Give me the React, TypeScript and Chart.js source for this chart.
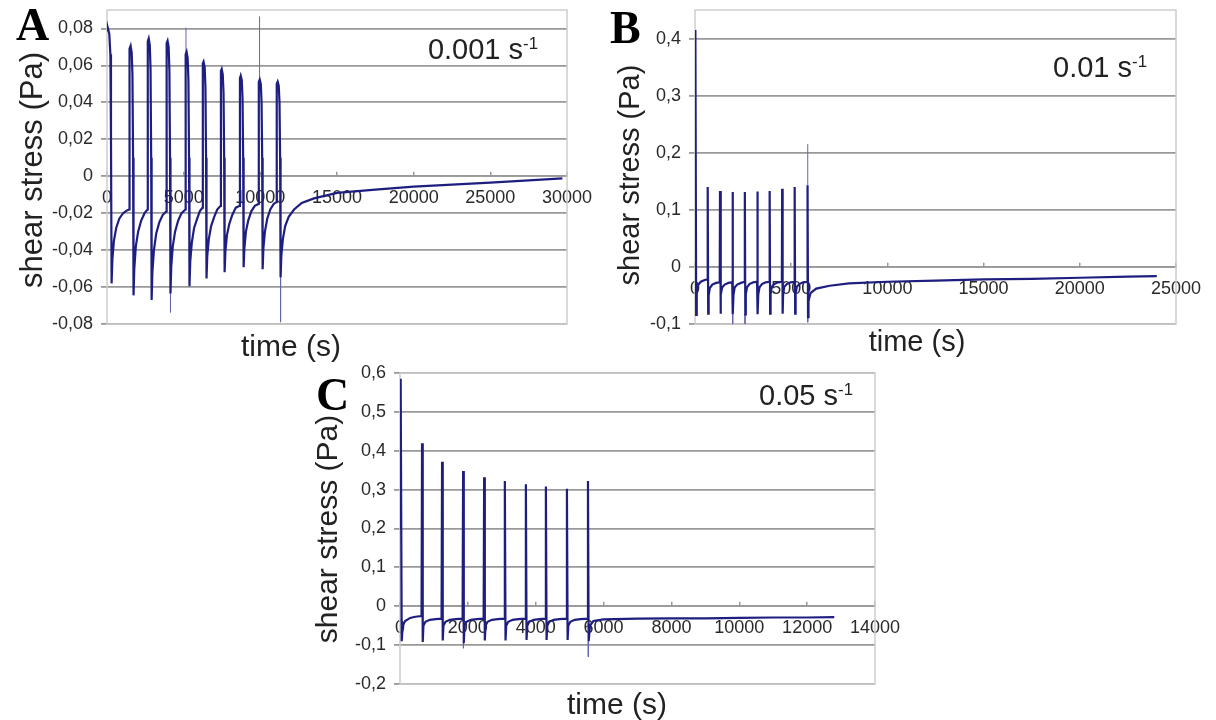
import React, { useEffect, useRef } from 'react';
import { Chart, registerables } from 'chart.js';

Chart.register(...registerables);

// ---------- Panel A : 0.001 s-1 ----------
const aTime = [
  0, 60, 150, 220, 260, 300, 350, 450, 600, 800, 1050, 1300, 1440,
  1470, 1540, 1610, 1660, 1700, 1730, 1780, 1880, 2030, 2230, 2450, 2640,
  2660, 2720, 2790, 2840, 2880, 2910, 2960, 3060, 3210, 3410, 3630, 3870,
  3890, 3950, 4020, 4070, 4110, 4140, 4190, 4290, 4440, 4640, 4860, 5110,
  5130, 5190, 5260, 5310, 5350, 5380, 5430, 5530, 5680, 5880, 6050, 6230,
  6250, 6300, 6370, 6420, 6460, 6490, 6540, 6640, 6790, 6990, 7190, 7410,
  7430, 7480, 7550, 7600, 7640, 7670, 7720, 7820, 7970, 8170, 8400, 8650,
  8670, 8720, 8790, 8840, 8880, 8910, 8960, 9060, 9210, 9410, 9640, 9880,
  9900, 9960, 10030, 10080, 10120, 10150, 10200, 10300, 10450, 10650, 10870, 11050,
  11070, 11130, 11200, 11250, 11290, 11320, 11370, 11470, 11620, 11850, 12200, 12700,
  13500, 15000, 17500, 20000, 22500, 25000, 27500, 29700,
];
const aStress = [
  0.079, 0.08, 0.077, 0.066, 0.02, -0.058, -0.045, -0.035, -0.028, -0.023, -0.02, -0.0185, -0.018,
  0.069, 0.0706, 0.067, 0.055, 0.01, -0.0645, -0.05, -0.038, -0.03, -0.024, -0.02, -0.018,
  0.073, 0.0746, 0.071, 0.058, 0.01, -0.067, -0.052, -0.04, -0.031, -0.025, -0.021, -0.019,
  0.072, 0.0733, 0.07, 0.057, 0.01, -0.0635, -0.049, -0.038, -0.03, -0.024, -0.02, -0.018,
  0.066, 0.0674, 0.064, 0.052, 0.01, -0.0596, -0.046, -0.036, -0.028, -0.023, -0.019, -0.017,
  0.061, 0.062, 0.059, 0.048, 0.01, -0.0553, -0.043, -0.034, -0.027, -0.022, -0.018, -0.016,
  0.057, 0.058, 0.055, 0.045, 0.01, -0.052, -0.041, -0.032, -0.026, -0.021, -0.017, -0.016,
  0.053, 0.0544, 0.052, 0.042, 0.01, -0.0493, -0.039, -0.03, -0.024, -0.019, -0.016, -0.015,
  0.051, 0.0523, 0.05, 0.04, 0.01, -0.0504, -0.039, -0.03, -0.023, -0.018, -0.015, -0.014,
  0.05, 0.0512, 0.049, 0.04, 0.01, -0.0547, -0.043, -0.034, -0.027, -0.022, -0.018, -0.0145,
  -0.012, -0.009, -0.0072, -0.0056, -0.0045, -0.0035, -0.0022, -0.0012,
];
const aThinTime = [5150, 5150, 5150, 9950, 9950, 9950, 4140, 4140, 4140, 11320, 11320];
const aThinStress = [0.06, 0.0805, null, 0.05, 0.0865, null, -0.06, -0.0737, null, -0.05, -0.079];
const aXTicks = [0, 5000, 10000, 15000, 20000, 25000, 30000];
const aYTicks = [-0.08, -0.06, -0.04, -0.02, 0, 0.02, 0.04, 0.06, 0.08];

// ---------- Panel B : 0.01 s-1 ----------
const bTime = [
  0, 20, 60, 90, 150, 300, 500, 645,
  660, 685, 710, 770, 900, 1100, 1285,
  1300, 1325, 1350, 1410, 1540, 1740, 1935,
  1950, 1975, 2000, 2060, 2190, 2390, 2575,
  2590, 2615, 2640, 2700, 2830, 3030, 3225,
  3240, 3265, 3290, 3350, 3480, 3680, 3865,
  3880, 3905, 3930, 3990, 4120, 4320, 4515,
  4530, 4555, 4580, 4640, 4770, 4970, 5165,
  5180, 5205, 5230, 5290, 5420, 5620, 5835,
  5850, 5875, 5900, 6000, 6300, 7000, 8000, 10000, 12500, 15000, 17500, 20000, 22500, 24000,
];
const bStress = [
  0.12, 0.415, -0.084, -0.045, -0.032, -0.026, -0.023, -0.022,
  0.14, -0.082, -0.05, -0.037, -0.031, -0.028, -0.027,
  0.133, -0.082, -0.049, -0.036, -0.031, -0.028, -0.027,
  0.131, -0.083, -0.049, -0.036, -0.031, -0.028, -0.026,
  0.131, -0.083, -0.048, -0.036, -0.03, -0.027, -0.026,
  0.132, -0.083, -0.048, -0.036, -0.03, -0.027, -0.026,
  0.133, -0.082, -0.048, -0.035, -0.03, -0.027, -0.026,
  0.137, -0.082, -0.048, -0.035, -0.03, -0.027, -0.026,
  0.14, -0.082, -0.047, -0.035, -0.03, -0.027, -0.026,
  0.143, -0.088, -0.06, -0.046, -0.038, -0.033, -0.029, -0.026, -0.024, -0.022, -0.021, -0.019, -0.017, -0.016,
];
const bThinTime = [5860, 5860, 5860, 5860, 5860, 5860, 1960, 1960, 1960, 2600, 2600];
const bThinStress = [0.143, 0.215, null, -0.085, -0.097, null, -0.083, -0.1, null, -0.083, -0.1];
const bXTicks = [0, 5000, 10000, 15000, 20000, 25000];
const bYTicks = [-0.1, 0, 0.1, 0.2, 0.3, 0.4];

// ---------- Panel C : 0.05 s-1 ----------
const cTime = [
  0, 20, 50, 80, 150, 300, 450, 635,
  650, 670, 690, 750, 880, 1050, 1225,
  1240, 1260, 1280, 1340, 1470, 1640, 1845,
  1860, 1880, 1900, 1960, 2090, 2260, 2465,
  2480, 2500, 2520, 2580, 2710, 2880, 3075,
  3090, 3110, 3130, 3190, 3320, 3490, 3695,
  3710, 3730, 3750, 3810, 3940, 4110, 4285,
  4300, 4320, 4340, 4400, 4530, 4700, 4905,
  4920, 4940, 4960, 5020, 5150, 5320, 5525,
  5540, 5560, 5600, 5700, 6000, 7000, 8000, 9000, 10000, 11000, 12000, 12800,
];
const cStress = [
  0.2, 0.585, -0.09, -0.05, -0.038, -0.03, -0.027, -0.025,
  0.419, -0.092, -0.05, -0.04, -0.035, -0.033, -0.032,
  0.372, -0.088, -0.05, -0.04, -0.035, -0.033, -0.032,
  0.348, -0.095, -0.05, -0.04, -0.035, -0.033, -0.032,
  0.332, -0.088, -0.05, -0.04, -0.035, -0.033, -0.032,
  0.322, -0.088, -0.05, -0.04, -0.035, -0.033, -0.032,
  0.314, -0.087, -0.05, -0.04, -0.035, -0.033, -0.032,
  0.308, -0.087, -0.05, -0.04, -0.035, -0.033, -0.032,
  0.302, -0.087, -0.05, -0.04, -0.035, -0.033, -0.032,
  0.322, -0.09, -0.05, -0.038, -0.034, -0.032, -0.031, -0.031, -0.03, -0.029, -0.029, -0.028,
];
const cThinTime = [1870, 1870, 1870, 5550, 5550];
const cThinStress = [-0.09, -0.108, null, -0.09, -0.13];
const cXTicks = [0, 2000, 4000, 6000, 8000, 10000, 12000, 14000];
const cYTicks = [-0.2, -0.1, 0, 0.1, 0.2, 0.3, 0.4, 0.5, 0.6];

// ---------- shared styling ----------
const FONT = "'Liberation Sans', Arial, sans-serif";
const LINE = '#1e1e80';
const THIN = '#6464b4';
const GRID = '#999999';
const FRAME = '#cdcdcd';

const fmtY = (v: number) => {
  if (Math.abs(v) < 1e-9) return '0';
  return String(Math.round(v * 1000) / 1000).replace('.', ',');
};

const framePlugin = {
  id: 'frame',
  beforeDatasetsDraw(chart: any) {
    const { ctx, chartArea } = chart;
    const { left, top, right, bottom } = chartArea;
    ctx.save();
    ctx.strokeStyle = FRAME;
    ctx.lineWidth = 1.5;
    ctx.strokeRect(left, top, right - left, bottom - top);
    ctx.restore();
  },
};

type Spec = {
  time: number[];
  stress: number[];
  thinTime: number[];
  thinStress: (number | null)[];
  xTicks: number[];
  yTicks: number[];
  xMax: number;
  yMin: number;
  yMax: number;
  left: number;
  top: number;
  w: number;
  h: number;
  yWidth: number;
  pad: { top: number; right: number; bottom: number; left: number };
};

function buildConfig(s: Spec): any {
  return {
    type: 'line',
    data: {
      datasets: [
        {
          data: s.time.map((t, i) => ({ x: t, y: s.stress[i] })),
          borderColor: LINE,
          borderWidth: 2.2,
          pointRadius: 0,
          tension: 0,
          fill: false,
        },
        {
          data: s.thinTime.map((t, i) => ({ x: t, y: s.thinStress[i] })),
          borderColor: THIN,
          borderWidth: 1,
          pointRadius: 0,
          spanGaps: false,
          tension: 0,
          fill: false,
        },
      ],
    },
    options: {
      responsive: false,
      animation: false,
      events: [],
      layout: { padding: s.pad },
      plugins: { legend: { display: false }, tooltip: { enabled: false }, title: { display: false } },
      scales: {
        x: {
          type: 'linear',
          min: 0,
          max: s.xMax,
          position: { y: 0 },
          afterBuildTicks: (axis: any) => {
            axis.ticks = s.xTicks.map((v) => ({ value: v }));
          },
          afterFit: (axis: any) => {
            axis.paddingLeft = 0;
            axis.paddingRight = 0;
          },
          grid: { drawOnChartArea: false, drawTicks: true, tickLength: -5, color: GRID, lineWidth: 1.5 },
          border: { display: true, color: GRID, width: 1.8 },
          ticks: {
            autoSkip: false,
            maxRotation: 0,
            padding: 16,
            color: '#2a2a2a',
            font: { family: FONT, size: 18 },
            callback: (v: any) => String(v),
          },
        },
        y: {
          type: 'linear',
          min: s.yMin,
          max: s.yMax,
          afterFit: (axis: any) => {
            axis.width = s.yWidth;
            axis.paddingTop = 0;
            axis.paddingBottom = 0;
          },
          afterBuildTicks: (axis: any) => {
            axis.ticks = s.yTicks.map((v) => ({ value: v }));
          },
          grid: { color: GRID, lineWidth: 1.8, drawTicks: true, tickLength: 6 },
          border: { display: false },
          ticks: {
            autoSkip: false,
            padding: 8,
            color: '#2a2a2a',
            font: { family: FONT, size: 18 },
            callback: (v: any) => fmtY(Number(v)),
          },
        },
      },
    },
    plugins: [framePlugin],
  };
}

const specA: Spec = {
  time: aTime, stress: aStress, thinTime: aThinTime, thinStress: aThinStress,
  xTicks: aXTicks, yTicks: aYTicks, xMax: 30000, yMin: -0.08, yMax: 0.09,
  left: 0, top: 0, w: 600, h: 360, yWidth: 107,
  pad: { top: 10, right: 33, bottom: 36, left: 0 },
};
const specB: Spec = {
  time: bTime, stress: bStress, thinTime: bThinTime, thinStress: bThinStress,
  xTicks: bXTicks, yTicks: bYTicks, xMax: 25000, yMin: -0.1, yMax: 0.45,
  left: 600, top: 0, w: 616, h: 360, yWidth: 95,
  pad: { top: 10, right: 40, bottom: 36, left: 0 },
};
const specC: Spec = {
  time: cTime, stress: cStress, thinTime: cThinTime, thinStress: cThinStress,
  xTicks: cXTicks, yTicks: cYTicks, xMax: 14000, yMin: -0.2, yMax: 0.6,
  left: 290, top: 360, w: 620, h: 360, yWidth: 110,
  pad: { top: 13, right: 35, bottom: 36, left: 0 },
};

function Panel({ spec }: { spec: Spec }) {
  const ref = useRef<HTMLCanvasElement | null>(null);
  useEffect(() => {
    if (!ref.current) return;
    const chart = new Chart(ref.current, buildConfig(spec));
    return () => chart.destroy();
  }, [spec]);
  return (
    <canvas
      ref={ref}
      width={spec.w}
      height={spec.h}
      style={{ position: 'absolute', left: spec.left, top: spec.top, width: spec.w, height: spec.h }}
    />
  );
}

function Letter({ ch, left, top }: { ch: string; left: number; top: number }) {
  return (
    <div
      style={{
        position: 'absolute', left, top, fontFamily: "'Liberation Serif', 'Times New Roman', serif",
        fontWeight: 'bold', fontSize: 46, lineHeight: 1, color: '#000', whiteSpace: 'nowrap',
      }}
    >
      {ch}
    </div>
  );
}

function Rate({ text, right, top }: { text: string; right: number; top: number }) {
  return (
    <div
      style={{
        position: 'absolute', left: right - 220, top, width: 220, textAlign: 'right',
        fontFamily: FONT, fontSize: 29, lineHeight: 1, color: '#222', whiteSpace: 'nowrap',
      }}
    >
      {text} s
      <span style={{ fontSize: '0.58em', position: 'relative', top: '-0.62em' }}>-1</span>
    </div>
  );
}

function YTitle({ cx, cy, size }: { cx: number; cy: number; size: number }) {
  return (
    <div
      style={{
        position: 'absolute', left: cx, top: cy, transform: 'translate(-50%, -50%) rotate(-90deg)',
        fontFamily: FONT, fontSize: size, lineHeight: 1, color: '#222', whiteSpace: 'nowrap',
      }}
    >
      shear stress (Pa)
    </div>
  );
}

function XTitle({ cx, cy, size }: { cx: number; cy: number; size: number }) {
  return (
    <div
      style={{
        position: 'absolute', left: cx, top: cy, transform: 'translate(-50%, -50%)',
        fontFamily: FONT, fontSize: size, lineHeight: 1, color: '#222', whiteSpace: 'nowrap',
      }}
    >
      time (s)
    </div>
  );
}

export default function App() {
  return (
    <div style={{ position: 'fixed', left: 0, top: 0, width: 1216, height: 720, background: '#fff', overflow: 'hidden' }}>
      <Panel spec={specA} />
      <Panel spec={specB} />
      <Panel spec={specC} />
      <Letter ch="A" left={16} top={2} />
      <Letter ch="B" left={610} top={5} />
      <Letter ch="C" left={316} top={372} />
      <Rate text="0.001" right={538} top={35} />
      <Rate text="0.01" right={1147} top={53} />
      <Rate text="0.05" right={853} top={381} />
      <YTitle cx={31} cy={170} size={31} />
      <YTitle cx={629} cy={175} size={29} />
      <YTitle cx={327} cy={529} size={30} />
      <XTitle cx={291} cy={346} size={30} />
      <XTitle cx={917} cy={341} size={29} />
      <XTitle cx={617} cy={704} size={30} />
    </div>
  );
}
